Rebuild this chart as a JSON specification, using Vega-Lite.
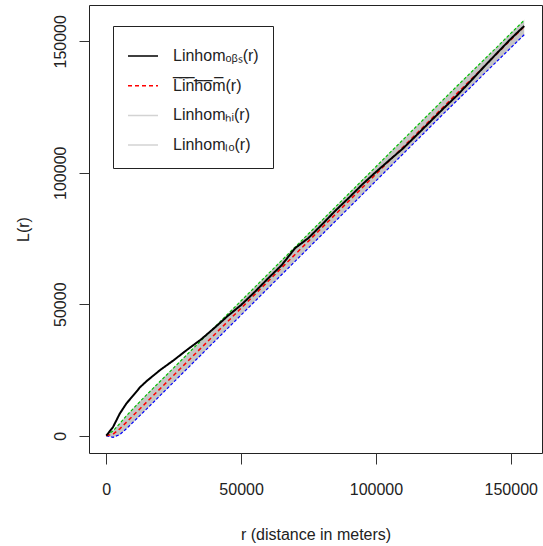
{
  "$schema": "https://vega.github.io/schema/vega-lite/v6.json",
  "width": 453,
  "height": 448,
  "autosize": {"type": "none"},
  "padding": {"left": 89, "top": 5, "right": 1, "bottom": 93},
  "background": "white",
  "config": {
    "font": "Liberation Sans",
    "view": {"stroke": "#222", "strokeWidth": 1},
    "axis": {"grid": false, "domain": false, "tickColor": "#333", "tickWidth": 1,
      "labelFont": "Liberation Sans", "labelFontSize": 16, "labelColor": "#222",
      "titleFont": "Liberation Sans", "titleFontSize": 16, "titleFontWeight": "normal", "titleColor": "#222"},
    "legend": {"labelFont": "Liberation Sans", "labelFontSize": 16, "labelColor": "#222"}
  },
  "data": {"values": [
    {"r": 0, "obs": 0, "theo": 0, "hi": 0, "lo": 0},
    {"r": 2500, "obs": 3300, "theo": 600, "hi": 1800, "lo": -600},
    {"r": 5000, "obs": 8400, "theo": 2600, "hi": 4600, "lo": 400},
    {"r": 7500, "obs": 12300, "theo": 5150, "hi": 7600, "lo": 2700},
    {"r": 10000, "obs": 15300, "theo": 7700, "hi": 10300, "lo": 5200},
    {"r": 12500, "obs": 18400, "theo": 10250, "hi": 13000, "lo": 7700},
    {"r": 15000, "obs": 20800, "theo": 12800, "hi": 15600, "lo": 10200},
    {"r": 20000, "obs": 25000, "theo": 17900, "hi": 20700, "lo": 15300},
    {"r": 25000, "obs": 28700, "theo": 23000, "hi": 25800, "lo": 20400},
    {"r": 30000, "obs": 32700, "theo": 28100, "hi": 30900, "lo": 25500},
    {"r": 35000, "obs": 36500, "theo": 33200, "hi": 36000, "lo": 30600},
    {"r": 40000, "obs": 40900, "theo": 38300, "hi": 41100, "lo": 35700},
    {"r": 45000, "obs": 45500, "theo": 43400, "hi": 46200, "lo": 40800},
    {"r": 50000, "obs": 49700, "theo": 48500, "hi": 51300, "lo": 45900},
    {"r": 55000, "obs": 54600, "theo": 53600, "hi": 56400, "lo": 51000},
    {"r": 60000, "obs": 59800, "theo": 58700, "hi": 61500, "lo": 56100},
    {"r": 65000, "obs": 64800, "theo": 63800, "hi": 66600, "lo": 61200},
    {"r": 70000, "obs": 71300, "theo": 68900, "hi": 71700, "lo": 66300},
    {"r": 75000, "obs": 75200, "theo": 74000, "hi": 76800, "lo": 71400},
    {"r": 80000, "obs": 80300, "theo": 79100, "hi": 81900, "lo": 76500},
    {"r": 85000, "obs": 85600, "theo": 84200, "hi": 87000, "lo": 81600},
    {"r": 90000, "obs": 90500, "theo": 89300, "hi": 92100, "lo": 86700},
    {"r": 95000, "obs": 95600, "theo": 94400, "hi": 97200, "lo": 91800},
    {"r": 100000, "obs": 100300, "theo": 99500, "hi": 102300, "lo": 96900},
    {"r": 105000, "obs": 104800, "theo": 104600, "hi": 107400, "lo": 102000},
    {"r": 110000, "obs": 109200, "theo": 109700, "hi": 112500, "lo": 107100},
    {"r": 115000, "obs": 114200, "theo": 114800, "hi": 117600, "lo": 112200},
    {"r": 120000, "obs": 119300, "theo": 119900, "hi": 122700, "lo": 117300},
    {"r": 125000, "obs": 124400, "theo": 125000, "hi": 127800, "lo": 122400},
    {"r": 130000, "obs": 129300, "theo": 130100, "hi": 132900, "lo": 127400},
    {"r": 135000, "obs": 134700, "theo": 135200, "hi": 137900, "lo": 132400},
    {"r": 140000, "obs": 140200, "theo": 140300, "hi": 142900, "lo": 137500},
    {"r": 145000, "obs": 145600, "theo": 145400, "hi": 147900, "lo": 142500},
    {"r": 150000, "obs": 150900, "theo": 150500, "hi": 153000, "lo": 147500},
    {"r": 155000, "obs": 155800, "theo": 155600, "hi": 158000, "lo": 152500}
  ]},
  "encoding": {
    "x": {"field": "r", "type": "quantitative",
      "scale": {"domain": [-6420, 161600], "nice": false, "zero": false},
      "axis": {"values": [0, 50000, 100000, 150000], "format": "d", "tickSize": 11, "labelPadding": 17,
        "title": "r (distance in meters)", "titleBaseline": "alphabetic", "titleX": 226.5, "titleY": 86}}
  },
  "layer": [
    {
      "mark": {"type": "area", "color": "#c4c4c4", "opacity": 1},
      "encoding": {
        "y": {"field": "lo", "type": "quantitative",
          "scale": {"domain": [-6590, 163800], "nice": false, "zero": false},
          "axis": {"values": [0, 50000, 100000, 150000], "format": "d", "tickSize": 10, "labelPadding": 14,
            "labelAngle": -90, "labelAlign": "center", "labelBaseline": "alphabetic",
            "title": "L(r)", "titleBaseline": "alphabetic", "titleX": -60.5, "titleY": 224}},
        "y2": {"field": "hi"}
      }
    },
    {
      "transform": [{"fold": ["hi", "lo"], "as": ["series", "L"]}],
      "mark": {"type": "line", "strokeWidth": 1},
      "encoding": {
        "y": {"field": "L", "type": "quantitative"},
        "color": {"field": "series", "type": "nominal",
          "scale": {"domain": ["obs", "theo", "hi", "lo"], "range": ["#000000", "#ff0000", "#d3d3d3", "#d3d3d3"]},
          "legend": {"title": null, "orient": "none", "legendX": 24, "legendY": 21, "strokeColor": "#222",
            "padding": 14, "symbolType": "stroke", "symbolSize": 900, "symbolStrokeWidth": 1.5,
            "labelOffset": 14, "rowPadding": 5.7,
            "labelExpr": "datum.label == 'obs' ? 'Linhomₒᵦₛ(r)' : datum.label == 'theo' ? 'L̅i̅n̅h̅o̅m̅(r)' : datum.label == 'hi' ? 'Linhomₕᵢ(r)' : 'Linhomₗₒ(r)'"}},
        "strokeDash": {"field": "series", "type": "nominal",
          "scale": {"domain": ["obs", "theo", "hi", "lo"], "range": [[1, 0], [4, 3], [1, 0], [1, 0]]},
          "legend": null}
      }
    },
    {
      "mark": {"type": "line", "color": "#00c000", "strokeWidth": 1.2, "strokeDash": [3, 2]},
      "encoding": {"y": {"field": "hi", "type": "quantitative"}}
    },
    {
      "mark": {"type": "line", "color": "#0000ff", "strokeWidth": 1.2, "strokeDash": [3, 2]},
      "encoding": {"y": {"field": "lo", "type": "quantitative"}}
    },
    {
      "transform": [{"fold": ["theo"], "as": ["series", "L"]}],
      "mark": {"type": "line", "strokeWidth": 1.5},
      "encoding": {
        "y": {"field": "L", "type": "quantitative"},
        "color": {"field": "series", "type": "nominal"},
        "strokeDash": {"field": "series", "type": "nominal"}
      }
    },
    {
      "transform": [{"fold": ["obs"], "as": ["series", "L"]}],
      "mark": {"type": "line", "strokeWidth": 2},
      "encoding": {
        "y": {"field": "L", "type": "quantitative"},
        "color": {"field": "series", "type": "nominal"},
        "strokeDash": {"field": "series", "type": "nominal"}
      }
    }
  ]
}
